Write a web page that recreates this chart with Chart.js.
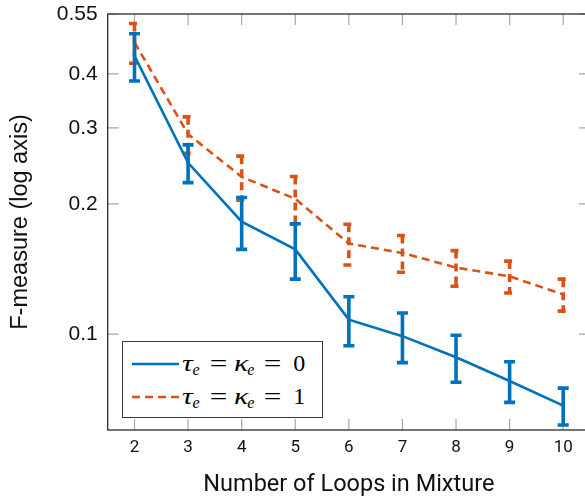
<!DOCTYPE html>
<html>
<head>
<meta charset="utf-8">
<script src="https://cdn.jsdelivr.net/npm/chart.js@4.4.1/dist/chart.umd.min.js"></script>
<style>
  html, body { margin: 0; padding: 0; background: #fff; }
  #wrap { position: relative; width: 585px; height: 501px; overflow: hidden; }
  #c { position: absolute; left: 0; top: 0; }
  #legend {
    position: absolute; left: 122px; top: 341px; width: 201px; height: 77px;
    box-sizing: border-box; border: 1.3px solid #3a3a3a; background: #fff;
    font-family: "Liberation Serif", serif; font-size: 24px; color: #000;
  }
  #legend svg { position: absolute; left: 9px; }
  #legend .txt { position: absolute; left: 59px; line-height: 24px; white-space: nowrap; }
  #legend i.g { display: inline-block; transform: scaleX(1.25); transform-origin: left; margin-right: 2px; }
  #legend sub { font-size: 16px; vertical-align: -4px; }
  #legend .eq { display: inline-block; width: 17px; text-align: center; transform: scaleX(1.3); margin: 0 7px 0 10px; }
  #legend .num { margin-left: 5px; }
</style>
</head>
<body>
<div id="wrap">
  <canvas id="c" width="590" height="501"></canvas>
  <div id="legend">
    <svg style="top:19px" width="48" height="6"><line x1="0" y1="3" x2="47" y2="3" stroke="#0072BD" stroke-width="2.6"/></svg>
    <div class="txt" style="top:9px"><i class="g">τ</i><sub><i>e</i></sub><span class="eq">=</span><i class="g">κ</i><sub><i>e</i></sub><span class="eq">=</span><span class="num">0</span></div>
    <svg style="top:52px" width="48" height="6"><line x1="0" y1="3" x2="47" y2="3" stroke="#D95319" stroke-width="2.6" stroke-dasharray="8 5"/></svg>
    <div class="txt" style="top:42px"><i class="g">τ</i><sub><i>e</i></sub><span class="eq">=</span><i class="g">κ</i><sub><i>e</i></sub><span class="eq">=</span><span class="num">1</span></div>
  </div>
</div>
<script>
// ── Data ────────────────────────────────────────────────
const loops  = ['2', '3', '4', '5', '6', '7', '8', '9', '10'];
const fmZero = [0.440, 0.249, 0.182, 0.157, 0.108, 0.0989, 0.0884, 0.0779, 0.0683];
const errZero = [0.055, 0.025, 0.025, 0.023, 0.014, 0.013, 0.011, 0.0084, 0.0067];
const fmOne  = [0.473, 0.290, 0.231, 0.2055, 0.162, 0.154, 0.1425, 0.136, 0.1235];
const errOne = [0.050, 0.028, 0.027, 0.026, 0.0175, 0.015, 0.0135, 0.0115, 0.0105];
const yTicks = [0.1, 0.2, 0.3, 0.4, 0.55];

const BLUE = '#0072BD';
const ORANGE = '#D95319';
const TICK = 11;
const CAP = 5.5;

// box around plot + inward tick marks on all four sides
const frameTicks = {
  id: 'frameTicks',
  beforeDatasetsDraw(chart) {
    const { ctx, chartArea: a, scales: { x, y } } = chart;
    ctx.save();
    ctx.strokeStyle = '#a8a8a8';
    ctx.lineWidth = 1.2;
    ctx.beginPath();
    x.ticks.forEach((t, i) => {
      const px = x.getPixelForTick(i);
      ctx.moveTo(px, a.bottom); ctx.lineTo(px, a.bottom - TICK);
      ctx.moveTo(px, a.top);    ctx.lineTo(px, a.top + TICK);
    });
    y.ticks.forEach(t => {
      const py = y.getPixelForValue(t.value);
      ctx.moveTo(a.left, py);  ctx.lineTo(a.left + TICK, py);
      ctx.moveTo(a.right, py); ctx.lineTo(a.right - TICK, py);
    });
    ctx.stroke();
    ctx.strokeStyle = '#2b2b2b';
    ctx.lineWidth = 1.3;
    ctx.strokeRect(a.left, a.top, a.right - a.left, a.bottom - a.top);
    ctx.restore();
  },
};

// vertical error bars with caps, drawn right after their dataset
const errorBars = {
  id: 'errorBars',
  afterDatasetDraw(chart, args) {
    const ds = chart.data.datasets[args.index];
    const y = chart.scales.y;
    const ctx = chart.ctx;
    ctx.save();
    ctx.strokeStyle = ds.borderColor;
    ctx.lineWidth = 3.6;
    ctx.setLineDash(ds.borderDash || []);
    args.meta.data.forEach((pt, i) => {
      const v = ds.data[i], e = ds.errors[i];
      const top = y.getPixelForValue(v + e);
      const bot = y.getPixelForValue(v - e);
      ctx.beginPath();
      ctx.moveTo(pt.x, top); ctx.lineTo(pt.x, bot);
      ctx.moveTo(pt.x - CAP, top); ctx.lineTo(pt.x + CAP, top);
      ctx.moveTo(pt.x - CAP, bot); ctx.lineTo(pt.x + CAP, bot);
      ctx.stroke();
    });
    ctx.restore();
  },
};

new Chart(document.getElementById('c'), {
  type: 'line',
  data: {
    labels: loops,
    datasets: [
      { data: fmZero, errors: errZero, borderColor: BLUE, borderWidth: 2.6,
        pointRadius: 0, tension: 0, fill: false },
      { data: fmOne, errors: errOne, borderColor: ORANGE, borderWidth: 2.6, borderDash: [8, 5],
        pointRadius: 0, tension: 0, fill: false },
    ],
  },
  options: {
    responsive: false,
    animation: false,
    devicePixelRatio: 1,
    layout: { padding: { top: 14, right: 0, left: 0, bottom: 0 } },
    plugins: { legend: { display: false }, tooltip: { enabled: false } },
    scales: {
      x: {
        type: 'category',
        offset: true,
        grid: { display: false, drawTicks: false },
        border: { display: false },
        ticks: { color: '#111', padding: 8, font: { family: 'Roboto', size: 17 }, maxRotation: 0 },
        title: { display: true, text: 'Number of Loops in Mixture', color: '#111',
                 font: { family: 'Roboto', size: 23.5 }, padding: { top: 0, bottom: 2 } },
        afterFit: s => { s.height = 71; s.paddingLeft = 0; s.paddingRight = 0; },
      },
      y: {
        type: 'logarithmic',
        min: 0.06,
        max: 0.55,
        grid: { display: false, drawTicks: false },
        border: { display: false },
        afterBuildTicks: s => { s.ticks = yTicks.map(v => ({ value: v })); },
        ticks: { color: '#111', padding: 10, font: { family: 'Liberation Sans', size: 21 },
                 callback: v => String(v) },
        title: { display: true, text: 'F-measure (log axis)', color: '#111',
                 font: { family: 'Liberation Sans', size: 23.5 }, padding: { top: 6, bottom: 0 } },
        afterFit: s => { s.width = 107.7; s.paddingTop = 0; s.paddingBottom = 0; },
      },
    },
  },
  plugins: [frameTicks, errorBars],
});
</script>
</body>
</html>
